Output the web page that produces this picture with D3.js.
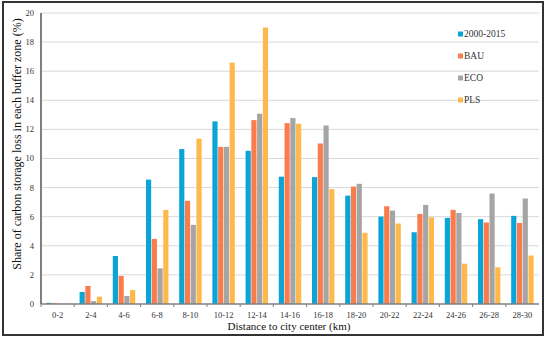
<!DOCTYPE html>
<html>
<head>
<meta charset="utf-8">
<script src="https://cdn.jsdelivr.net/npm/d3@7"></script>
<style>
  body { margin: 0; background: #fff; }
  text { font-family: "Liberation Serif", "Times New Roman", serif; fill: #333; }
</style>
</head>
<body>
<svg width="550" height="339"></svg>
<script>
// buffer zones (km from city center)
var zones = ["0-2", "2-4", "4-6", "6-8", "8-10", "10-12", "12-14", "14-16",
             "16-18", "18-20", "20-22", "22-24", "24-26", "26-28", "28-30"];
var seriesNames = ["2000-2015", "BAU", "ECO", "PLS"];
var histValues = [0.08, 0.83, 3.3, 8.55, 10.65, 12.55, 10.53, 8.75, 8.72, 7.45, 6.01, 4.93, 5.92, 5.83, 6.06];
var bauValues  = [0.06, 1.24, 1.93, 4.47, 7.09, 10.8, 12.64, 12.43, 11.03, 8.07, 6.72, 6.19, 6.47, 5.6, 5.57];
var ecoValues  = [0.02, 0.2, 0.55, 2.45, 5.44, 10.8, 13.08, 12.78, 12.27, 8.26, 6.42, 6.81, 6.26, 7.59, 7.25];
var plsValues  = [0.02, 0.5, 0.96, 6.47, 11.36, 16.59, 19.0, 12.39, 7.89, 4.89, 5.53, 5.96, 2.77, 2.52, 3.33];
var yTicks = [0, 2, 4, 6, 8, 10, 12, 14, 16, 18, 20];

var colors = ["#0aa5d6", "#fa7c4c", "#a5a5a5", "#fdb94a"];
var allValues = [histValues, bauValues, ecoValues, plsValues];

var svg = d3.select("svg");
var margin = {top: 13, right: 11, bottom: 35, left: 41},
    width = 550 - margin.left - margin.right,
    height = 339 - margin.top - margin.bottom;

// outer frame
svg.append("rect")
    .attr("x", 3).attr("y", 2)
    .attr("width", 540).attr("height", 333)
    .attr("fill", "none")
    .attr("stroke", "#333")
    .attr("stroke-width", 2);

var g = svg.append("g").attr("transform", "translate(" + margin.left + "," + margin.top + ")");

var x0 = d3.scaleBand().domain(zones).range([0, width]).paddingInner(0.29).paddingOuter(0.145);
var x1 = d3.scaleBand().domain(seriesNames).range([0, x0.bandwidth()]).padding(0.1);
var y = d3.scaleLinear().domain([0, 20]).range([height, 0]);
var color = d3.scaleOrdinal().domain(seriesNames).range(colors);

// gridlines
g.append("g")
    .selectAll("line")
    .data(yTicks.slice(1))
    .enter().append("line")
    .attr("x1", 0).attr("x2", width)
    .attr("y1", function(d) { return y(d); })
    .attr("y2", function(d) { return y(d); })
    .attr("stroke", "#d9d9d9")
    .attr("stroke-width", 1);

// bars
var groups = g.selectAll(".zone")
    .data(zones)
    .enter().append("g")
    .attr("class", "zone")
    .attr("transform", function(d) { return "translate(" + x0(d) + ",0)"; });

groups.selectAll("rect")
    .data(function(d, i) {
        return seriesNames.map(function(s, j) { return {key: s, value: allValues[j][i]}; });
    })
    .enter().append("rect")
    .attr("x", function(d) { return x1(d.key); })
    .attr("width", x1.bandwidth())
    .attr("y", function(d) { return y(d.value); })
    .attr("height", function(d) { return height - y(d.value); })
    .attr("fill", function(d) { return color(d.key); });

// x axis: ticks at the band boundaries
var xAxis = g.append("g")
    .attr("transform", "translate(0," + height + ")");
xAxis.append("line")
    .attr("x1", 0).attr("x2", width)
    .attr("stroke", "#7f7f7f").attr("stroke-width", 1.5);
xAxis.selectAll(".tk")
    .data(zones)
    .enter().append("line")
    .attr("class", "tk")
    .attr("x1", function(d) { return x0(d) - x0.step() * x0.paddingInner() / 2; })
    .attr("x2", function(d) { return x0(d) - x0.step() * x0.paddingInner() / 2; })
    .attr("y1", 0).attr("y2", 3)
    .attr("stroke", "#7f7f7f");
xAxis.selectAll(".lbl")
    .data(zones)
    .enter().append("text")
    .attr("class", "lbl")
    .attr("x", function(d) { return x0(d) + x0.bandwidth() / 2; })
    .attr("y", 14)
    .attr("text-anchor", "middle")
    .style("font-size", "8.5px")
    .text(function(d) { return d; });

// y axis
var yAxis = g.append("g");
yAxis.append("line")
    .attr("x1", 0).attr("x2", 0)
    .attr("y1", 0).attr("y2", height)
    .attr("stroke", "#7f7f7f").attr("stroke-width", 2);
yAxis.selectAll("text")
    .data(yTicks)
    .enter().append("text")
    .attr("x", -7)
    .attr("y", function(d) { return y(d); })
    .attr("dy", "0.35em")
    .attr("text-anchor", "end")
    .style("font-size", "8.5px")
    .text(function(d) { return d; });

// axis titles
svg.append("text")
    .attr("x", 289).attr("y", 330)
    .attr("text-anchor", "middle")
    .style("font-size", "11px")
    .style("fill", "#111")
    .text("Distance to city center (km)");
svg.append("text")
    .attr("transform", "translate(21,144) rotate(-90)")
    .attr("text-anchor", "middle")
    .style("font-size", "12px")
    .style("fill", "#111")
    .text("Share of carbon storage loss in each buffer zone (%)");

// legend
var legend = svg.selectAll(".legend")
    .data(seriesNames)
    .enter().append("g")
    .attr("class", "legend")
    .attr("transform", function(d, i) { return "translate(458," + (34 + i * 22) + ")"; });
legend.append("rect")
    .attr("x", 0).attr("y", -2.5)
    .attr("width", 5).attr("height", 5)
    .attr("fill", function(d) { return color(d); });
legend.append("text")
    .attr("x", 6).attr("dy", "0.35em")
    .style("font-size", "9.5px")
    .text(function(d) { return d; });
</script>
</body>
</html>
